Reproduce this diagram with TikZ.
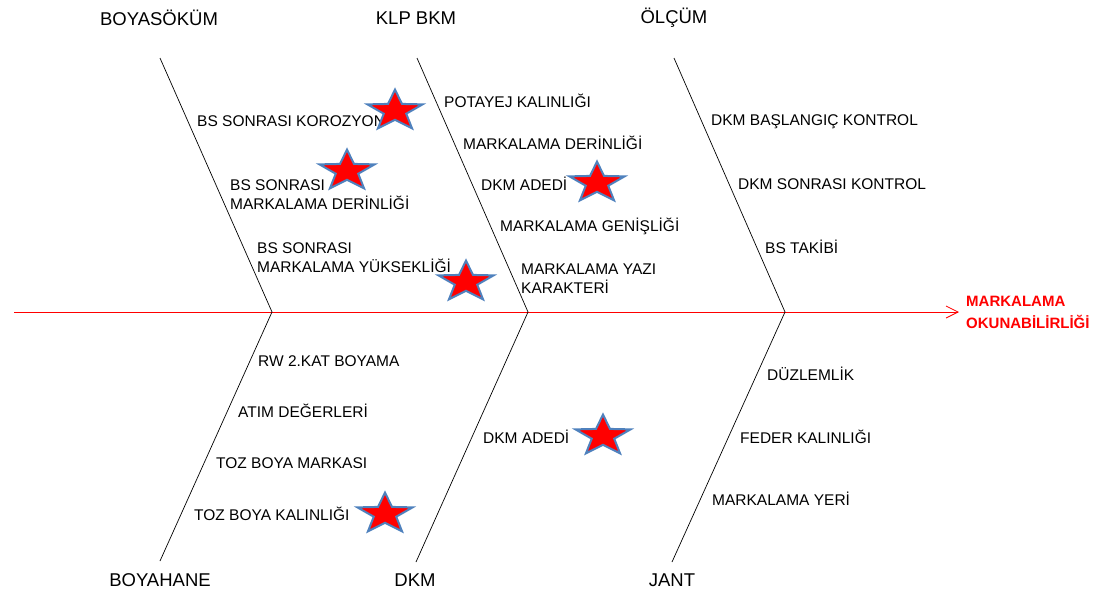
\documentclass[tikz,border=0pt]{standalone}
\usepackage{fontspec}
\setmainfont{Liberation Sans}
\usetikzlibrary{shapes.geometric,arrows.meta}
\definecolor{starblue}{RGB}{79,129,189}
\tikzset{
  cause/.style={anchor=west,align=left,inner sep=0pt,font=\fontsize{15.5}{19}\selectfont},
  group/.style={inner sep=0pt,font=\fontsize{18.5}{22}\selectfont},
  effect/.style={anchor=west,align=left,inner sep=0pt,text=red,font=\bfseries\fontsize{15}{22}\selectfont},
  bone/.style={black,line width=0.7pt},
  spine/.style={red,line width=0.8pt,-{Straight Barb[length=12pt,width=12pt]}},
  kstar/.style={star,star points=5,star point ratio=2.45,minimum size=58pt,inner sep=0pt,
    fill=red,draw=starblue,line width=2pt,yscale=0.74,transform shape}
}
\begin{document}
\begin{tikzpicture}[x=1pt,y=-1pt]
\useasboundingbox (0,0) rectangle (1093,592);
%\draw[step=50,gray,very thin] (0,0) grid (1093,592); %background grid

%spine%%%%%%%%%%%%%%%%%%%%%%%%%%%%%%%%%%%%%%%%%%%%%%%%%%%%%%%%%%%%%
\coordinate (tail) at (14,312);
\node[effect] (effect) at (966,312) {MARKALAMA\\OKUNABİLİRLİĞİ};
\draw[spine] (tail) -- ([xshift=-7pt]effect.west);

%group names%%%%%%%%%%%%%%%%%%%%%%%%%%%%%%%%%%%%%%%%%%%%%%%%%%%%%%%
\node[group] (boyasokum) at (159,18) {BOYASÖKÜM};
\node[group] (klpbkm) at (416,18) {KLP BKM};
\node[group] (olcum) at (674,18) {ÖLÇÜM};
\node[group] (boyahane) at (160,580) {BOYAHANE};
\node[group] (dkm) at (415,580) {DKM};
\node[group] (jant) at (672,580) {JANT};

%bones%%%%%%%%%%%%%%%%%%%%%%%%%%%%%%%%%%%%%%%%%%%%%%%%%%%%%%%%%%%%%
\coordinate (j1) at (272,312);
\coordinate (j2) at (528,312);
\coordinate (j3) at (785,312);
\coordinate (t1) at (160,58);
\coordinate (t2) at (417,58);
\coordinate (t3) at (674,58);
\coordinate (b1) at (160,561);
\coordinate (b2) at (416,562);
\coordinate (b3) at (672,562);

\draw[bone] (t1) -- (j1);
\draw[bone] (t2) -- (j2);
\draw[bone] (t3) -- (j3);
\draw[bone] (j1) -- (b1);
\draw[bone] (j2) -- (b2);
\draw[bone] (j3) -- (b3);

%causes up%%%%%%%%%%%%%%%%%%%%%%%%%%%%%%%%%%%%%%%%%%%%%%%%%%%%%%%%%
\node[cause] (korozyon) at (197,121) {BS SONRASI KOROZYON};
\node[cause] (bsderinlik) at (230,194.5) {BS SONRASI\\MARKALAMA DERİNLİĞİ};
\node[cause] (bsyukseklik) at (257,257.5) {BS SONRASI\\MARKALAMA YÜKSEKLİĞİ};

\node[cause] (potayej) at (444,101) {POTAYEJ KALINLIĞI};
\node[cause] (derinlik) at (463,143) {MARKALAMA DERİNLİĞİ};
\node[cause] (adedi) at (481,184) {DKM ADEDİ};
\node[cause] (genislik) at (500,226) {MARKALAMA GENİŞLİĞİ};
\node[cause] (yazi) at (521,278.5) {MARKALAMA YAZI\\KARAKTERİ};

\node[cause] (baslangic) at (711,122) {DKM BAŞLANGIÇ KONTROL};
\node[cause] (sonrasi) at (738,184) {DKM SONRASI KONTROL};
\node[cause] (takibi) at (765,247) {BS TAKİBİ};

%causes down%%%%%%%%%%%%%%%%%%%%%%%%%%%%%%%%%%%%%%%%%%%%%%%%%%%%%%%
\node[cause] (rw) at (258,361) {RW 2.KAT BOYAMA};
\node[cause] (atim) at (238,411) {ATIM DEĞERLERİ};
\node[cause] (marka) at (216,463) {TOZ BOYA MARKASI};
\node[cause] (tozkalinlik) at (194,514) {TOZ BOYA KALINLIĞI};

\node[cause] (adedialt) at (483,437) {DKM ADEDİ};

\node[cause] (duzlemlik) at (767,374) {DÜZLEMLİK};
\node[cause] (feder) at (740,437) {FEDER KALINLIĞI};
\node[cause] (yeri) at (712,499) {MARKALAMA YERİ};

%stars%%%%%%%%%%%%%%%%%%%%%%%%%%%%%%%%%%%%%%%%%%%%%%%%%%%%%%%%%%%%%
\node[kstar] (star1) at (395,111) {};
\node[kstar] (star2) at (347,171) {};
\node[kstar] (star3) at (597,183) {};
\node[kstar] (star4) at (466,282) {};
\node[kstar] (star5) at (603,436) {};
\node[kstar] (star6) at (385,514) {};

\end{tikzpicture}
\end{document}
